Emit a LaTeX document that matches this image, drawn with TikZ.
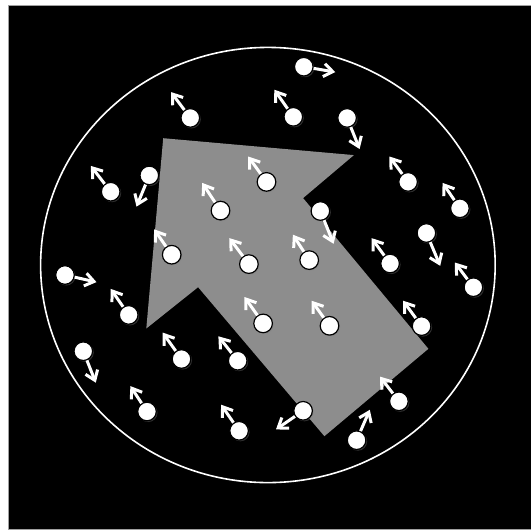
\documentclass[tikz,border=0pt]{standalone}
\usepackage{tikz}
\usetikzlibrary{arrows.meta, shadows}
\definecolor{fieldgray}{HTML}{8D8D8D}
\definecolor{framegray}{HTML}{A0A0A0}

\begin{document}
\begin{tikzpicture}[x=0.5pt,y=-0.5pt,
    particle/.style={circle,fill=white,draw=black,line width=0.6pt,minimum size=9.3pt,inner sep=0pt,
      drop shadow={shadow xshift=0.6pt,shadow yshift=-0.6pt,opacity=0.4}},
    moment/.style={white,line width=1.5pt,-{Straight Barb[length=4.5pt,width=6.5pt]}}]
    \useasboundingbox (0,0) rectangle (531,531);
    \fill[white] (0,0) rectangle (531,531);
    \filldraw[fill=black,draw=framegray,line width=0.5pt] (8.5,5) rectangle (534,529);
    \draw[white,line width=0.8pt] (267.9,265) ellipse [x radius=227.3,y radius=217.6];
    \fill[fieldgray] (163.2,138.2) -- (353.9,155.1) -- (303.1,198.1) -- (428.4,348.8) -- (324.4,436.2) -- (198.1,287.2) -- (146.3,328.5) -- cycle;
    \foreach \x/\y/\u/\v [count=\i] in {303.8/66.7/335.3/72.1, 190.3/117.9/171/92.1, 293.3/116.8/274.3/89.7,
        347.1/117.9/359.6/149, 266.5/181.9/248.2/156.5, 149.3/175.4/136.5/206.6, 110.7/191.7/90.8/165.9,
        408.1/181.9/389.4/156.5, 459.9/208.3/442.6/182.9, 220.5/210.6/202.2/182.9, 320.4/211/333.6/243.8,
        426.4/233/440.2/265.8, 171.7/254.7/154.1/229.3, 248.9/264.1/229.3/238.1, 309.2/260.1/292.9/234.7,
        390.1/263.5/371.5/238.1, 473.4/287.2/454.8/262.5, 65/275/96.5/282.1, 128.7/314.9/110.7/288.9,
        263.1/323.4/244.5/297, 329.5/325.8/311.6/300.7, 421.6/326.1/403/300.7, 181.5/359/162.6/332.6,
        237.7/360.7/218.4/336.3, 83.3/351.2/95.8/382.7, 147/411.5/130.4/386.1, 239.1/430.8/221.1/404.7,
        303.1/410.8/276/429.4, 398.9/401.3/380/376.6, 356.6/440.2/369.8/409.8}{
      \node[particle] (p\i) at (\x,\y) {};
      \coordinate (t\i) at (\u,\v);
      \draw[moment] (p\i) -- (t\i);
    }
\end{tikzpicture}
\end{document}
